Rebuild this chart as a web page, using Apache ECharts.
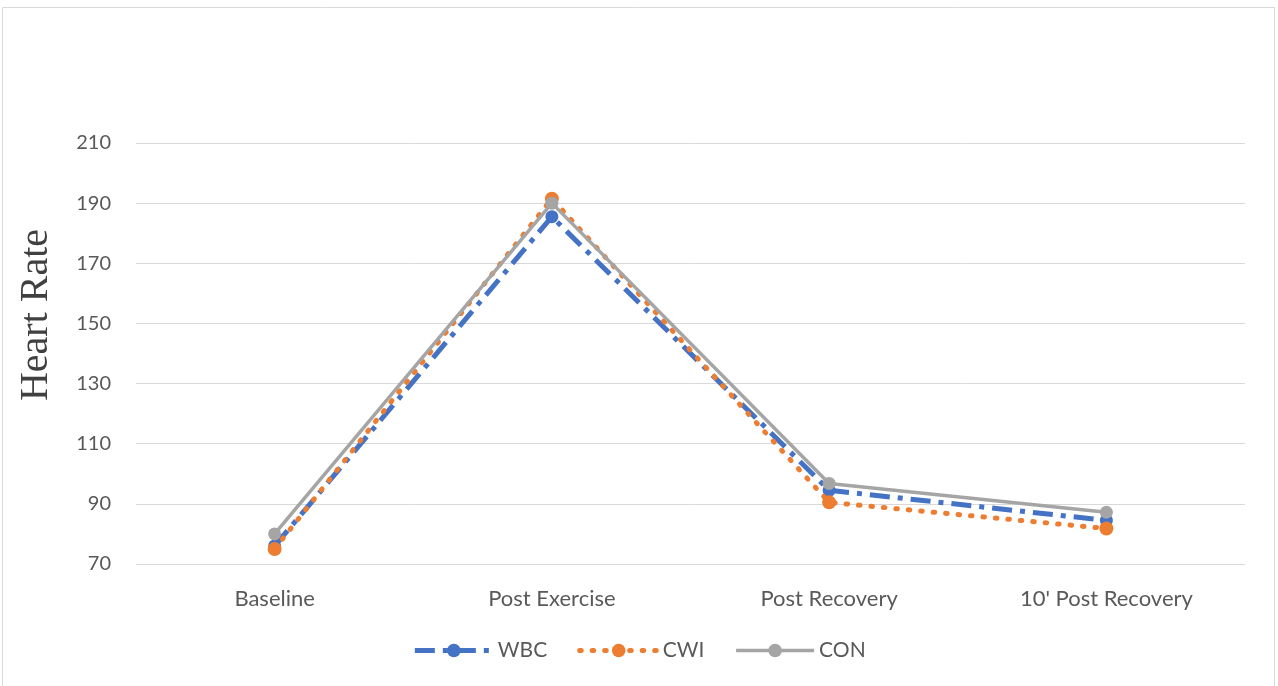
<!DOCTYPE html>
<html>
<head>
<meta charset="utf-8">
<script src="https://cdn.jsdelivr.net/npm/echarts@6/dist/echarts.min.js"></script>
<style>
  html, body { margin: 0; padding: 0; background: #fff; }
  #chart { width: 1278px; height: 686px; }
</style>
</head>
<body>
<div id="chart"></div>
<script>
// Heart rate by measurement stage for three recovery groups
const categories = ['Baseline', 'Post Exercise', 'Post Recovery', "10' Post Recovery"];
const wbc = [76, 185.5, 94.5, 84.5];
const cwi = [75, 191.5, 90.5, 81.8];
const con = [80, 190, 96.8, 87.2];
const yTicks = { min: 70, max: 210, step: 20 };

const chart = echarts.init(document.getElementById('chart'), null, { renderer: 'canvas' });
const txtFont = 'Lato, "Open Sans", sans-serif';

const wbcLine = { color: '#4472C4', width: 5, type: [20, 8, 5, 8], cap: 'butt' };
const cwiLine = { color: '#ED7D31', width: 5, type: [1.5, 11], cap: 'round' };
const conLine = { color: '#A5A5A5', width: 3.5 };

chart.setOption({
  animation: false,
  backgroundColor: '#ffffff',
  graphic: [
    {
      type: 'rect',
      shape: { x: 2.5, y: 7.5, width: 1272, height: 690 },
      style: { fill: 'none', stroke: '#d9d9d9', lineWidth: 1 }
    },
    {
      type: 'text',
      x: 36, y: 315,
      rotation: Math.PI / 2,
      style: {
        text: 'Heart Rate',
        font: '40px "Liberation Serif", "DejaVu Serif", serif',
        fill: '#404040',
        align: 'center',
        verticalAlign: 'middle'
      }
    }
  ],
  grid: { left: 136, right: 33, top: 143, bottom: 122, containLabel: false },
  legend: {
    bottom: 20,
    left: 'center',
    itemWidth: 78,
    itemHeight: 17,
    itemGap: 30,
    textStyle: { fontFamily: txtFont, fontSize: 21, color: '#595959' },
    data: [
      { name: 'WBC', lineStyle: wbcLine },
      { name: 'CWI', lineStyle: cwiLine },
      { name: 'CON', lineStyle: conLine }
    ]
  },
  xAxis: {
    type: 'category',
    data: categories,
    boundaryGap: true,
    axisLine: { show: false },
    axisTick: { show: false },
    axisLabel: { fontFamily: txtFont, fontSize: 22, color: '#595959', margin: 24 }
  },
  yAxis: {
    type: 'value',
    min: yTicks.min,
    max: yTicks.max,
    interval: yTicks.step,
    axisLine: { show: false },
    axisTick: { show: false },
    axisLabel: { fontFamily: txtFont, fontSize: 20, color: '#595959', margin: 25 },
    splitLine: { lineStyle: { color: '#d9d9d9', width: 1 } }
  },
  series: [
    {
      name: 'WBC',
      type: 'line',
      data: wbc,
      symbol: 'circle',
      symbolSize: 13,
      itemStyle: { color: '#4472C4' },
      lineStyle: wbcLine,
      z: 2
    },
    {
      name: 'CWI',
      type: 'line',
      data: cwi,
      symbol: 'circle',
      symbolSize: 14,
      itemStyle: { color: '#ED7D31' },
      lineStyle: cwiLine,
      z: 3
    },
    {
      name: 'CON',
      type: 'line',
      data: con,
      symbol: 'circle',
      symbolSize: 13,
      itemStyle: { color: '#A5A5A5' },
      lineStyle: conLine,
      z: 4
    }
  ]
});
</script>
</body>
</html>
